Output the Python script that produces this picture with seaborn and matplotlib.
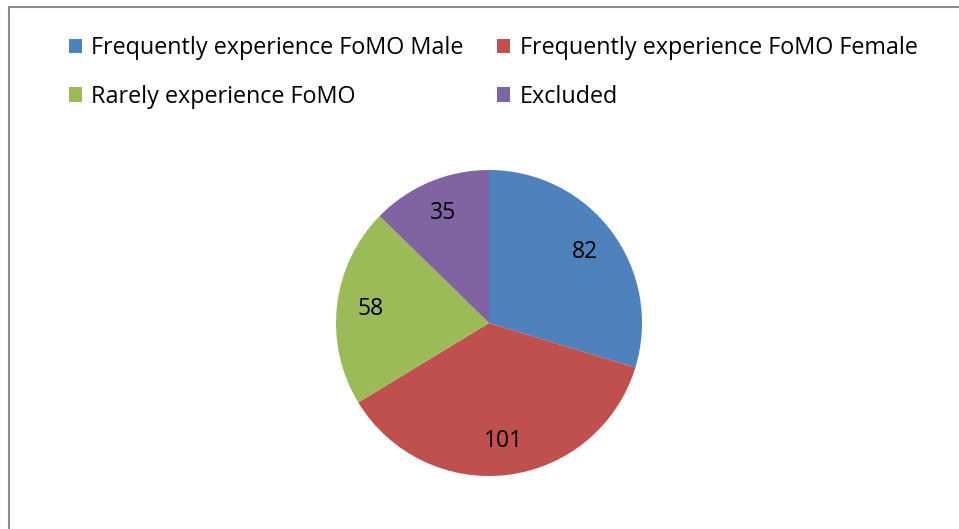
import matplotlib
matplotlib.use('Agg')
import matplotlib.pyplot as plt
from matplotlib.patches import Rectangle, Patch
import seaborn as sns

categories = ['Frequently experience FoMO Male', 'Frequently experience FoMO Female',
              'Rarely experience FoMO', 'Excluded']
counts = [82, 101, 58, 35]
colors = sns.color_palette(['#4F81BD', '#C0504D', '#9BBB59', '#8064A2'])

sns.set_style('white')
plt.rcParams['font.family'] = ['Open Sans', 'DejaVu Sans']

W, H = 959, 529
fig = plt.figure(figsize=(W / 100, H / 100), dpi=100)

# pie placed by pixel centre / radius
cx, cy, r = 489, 323, 153
ax = fig.add_axes([(cx - r) / W, (H - cy - r) / H, 2 * r / W, 2 * r / H])
wedges, texts = ax.pie(counts, colors=colors, startangle=90, counterclock=False,
                       labels=[str(c) for c in counts], labeldistance=0.78,
                       textprops=dict(fontsize=16.5, color='black'),
                       wedgeprops=dict(linewidth=0))
for t in texts:
    t.set_horizontalalignment('center')
    t.set_verticalalignment('center')
ax.set_xlim(-1, 1)
ax.set_ylim(-1, 1)
ax.axis('off')

# legend, two columns filled row by row as in the chart
handles = [Patch(facecolor=c, edgecolor='none') for c in colors]
order = [0, 2, 1, 3]
leg = fig.legend([handles[i] for i in order], [categories[i] for i in order], ncol=2,
                 loc='upper left', bbox_to_anchor=(69 / W, 1 - 36 / H),
                 frameon=False, fontsize=16.8, handlelength=0.55, handleheight=0.55,
                 handletextpad=0.4, columnspacing=1.45, labelspacing=1.06,
                 borderaxespad=0, borderpad=0)
for t in leg.get_texts():
    t.set_color('black')

# outer frame (only top and left visible)
fig.add_artist(Rectangle((9 / W, -0.1), 1.2, 1.1 - 7 / H, transform=fig.transFigure,
                         fill=False, edgecolor='#8c8c8c', linewidth=1.5))

fig.savefig('out.png', dpi=100, facecolor='white')
